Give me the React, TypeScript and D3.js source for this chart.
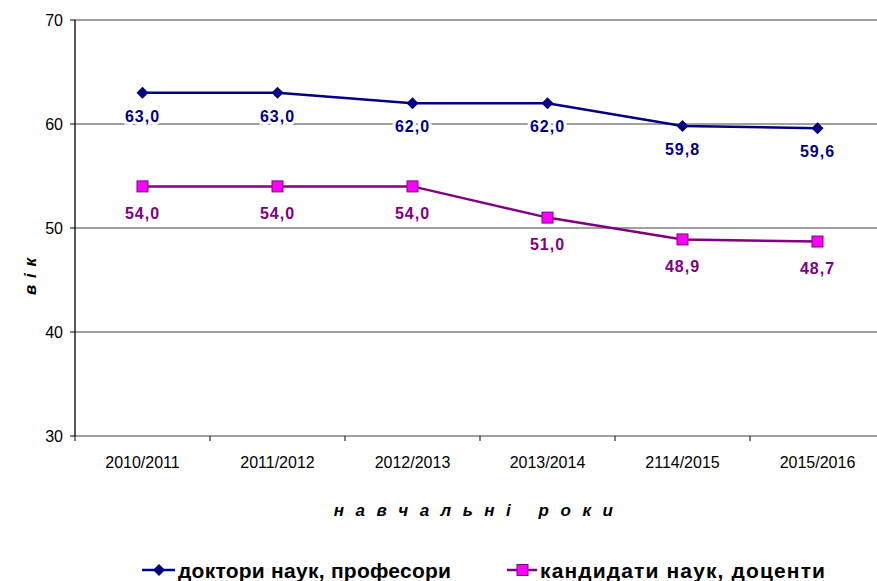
import React from "react";
import * as d3 from "d3";

const years = ["2010/2011", "2011/2012", "2012/2013", "2013/2014", "2114/2015", "2015/2016"];
const doctors = [63.0, 63.0, 62.0, 62.0, 59.8, 59.6];
const candidates = [54.0, 54.0, 54.0, 51.0, 48.9, 48.7];
const yTicks = [30, 40, 50, 60, 70];

const W = 877;
const H = 581;
const margin = { top: 20, right: -8, bottom: 145, left: 75 };
const FONT = "Arial, 'Liberation Sans', sans-serif";

const BLUE = "#000080";
const PURPLE = "#800080";
const PINK = "#FF00FF";

const fmt = (v: number) => v.toFixed(1).replace(".", ",");

export default function App() {
  const innerW = W - margin.left - margin.right;
  const innerH = H - margin.top - margin.bottom;

  const x = d3.scaleBand<string>().domain(years).range([0, innerW]);
  const y = d3.scaleLinear().domain([30, 70]).range([innerH, 0]);
  const cx = (d: string) => (x(d) ?? 0) + x.bandwidth() / 2;

  const line = d3
    .line<number>()
    .x((_, i) => cx(years[i]))
    .y((d) => y(d));

  return (
    <svg width={W} height={H} style={{ display: "block", position: "absolute", left: 0, top: 0 }} fontFamily={FONT}>
      <rect width={W} height={H} fill="#fff" />
      <g transform={`translate(${margin.left},${margin.top})`}>
        {/* gridlines */}
        {yTicks.map((t) => (
          <line key={t} x1={0} x2={innerW} y1={y(t)} y2={y(t)} stroke="#808080" strokeWidth={1.3} />
        ))}
        {/* y axis */}
        <line x1={0} x2={0} y1={0} y2={innerH} stroke="#000" strokeWidth={1.3} />
        {yTicks.map((t) => (
          <g key={t} transform={`translate(0,${y(t)})`}>
            <line x1={-5} x2={0} stroke="#000" />
            <text x={-12} dy="0.36em" textAnchor="end" fontSize={16} fill="#000">
              {t}
            </text>
          </g>
        ))}
        {/* x axis ticks */}
        {d3.range(years.length + 1).map((i) => (
          <line key={i} x1={i * x.bandwidth()} x2={i * x.bandwidth()} y1={innerH} y2={innerH + 5} stroke="#000" />
        ))}
        {years.map((yr) => (
          <text key={yr} x={cx(yr)} y={innerH + 32} textAnchor="middle" fontSize={16} fill="#000">
            {yr}
          </text>
        ))}

        {/* series lines */}
        <path d={line(doctors) ?? ""} fill="none" stroke={BLUE} strokeWidth={2.5} />
        <path d={line(candidates) ?? ""} fill="none" stroke={PURPLE} strokeWidth={2.5} />

        {/* markers */}
        {doctors.map((v, i) => (
          <path
            key={i}
            transform={`translate(${cx(years[i])},${y(v)})`}
            d="M0,-6L6,0L0,6L-6,0Z"
            fill={BLUE}
          />
        ))}
        {candidates.map((v, i) => (
          <rect
            key={i}
            x={cx(years[i]) - 5.5}
            y={y(v) - 5.5}
            width={11}
            height={11}
            fill={PINK}
            stroke={PURPLE}
            strokeWidth={1}
          />
        ))}

        {/* data labels */}
        {doctors.map((v, i) => (
          <text
            key={i}
            x={cx(years[i])}
            y={y(v) + 23}
            dy="0.36em"
            textAnchor="middle"
            fontSize={16}
            fontWeight="bold"
            letterSpacing={1}
            fill={BLUE}
            stroke="#fff"
            strokeWidth={6}
            style={{ paintOrder: "stroke" }}
          >
            {fmt(v)}
          </text>
        ))}
        {candidates.map((v, i) => (
          <text
            key={i}
            x={cx(years[i])}
            y={y(v) + 27}
            dy="0.36em"
            textAnchor="middle"
            fontSize={16}
            fontWeight="bold"
            letterSpacing={1}
            fill={PURPLE}
            stroke="#fff"
            strokeWidth={6}
            style={{ paintOrder: "stroke" }}
          >
            {fmt(v)}
          </text>
        ))}
      </g>

      {/* axis titles */}
      <text
        transform="translate(36,276) rotate(-90)"
        textAnchor="middle"
        fontSize={17}
        fontWeight="bold"
        fontStyle="italic"
        letterSpacing={1}
        style={{ whiteSpace: "pre" }}
      >
        в і к
      </text>
      <text
        x={475}
        y={516}
        textAnchor="middle"
        fontSize={17}
        fontWeight="bold"
        fontStyle="italic"
        letterSpacing={3.4}
        style={{ whiteSpace: "pre" }}
      >
        н а в ч а л ь н і   р о к и
      </text>

      {/* legend */}
      <g transform="translate(142,570)">
        <line x1={0} x2={33} y1={0} y2={0} stroke={BLUE} strokeWidth={2.5} />
        <path transform="translate(17,0)" d="M0,-6L6,0L0,6L-6,0Z" fill={BLUE} />
        <text x={36} dy="0.36em" fontSize={21} fontWeight="bold" fill="#000" textLength={273} lengthAdjust="spacing">
          доктори наук, професори
        </text>
      </g>
      <g transform="translate(507,570)">
        <line x1={0} x2={30} y1={0} y2={0} stroke={PURPLE} strokeWidth={2.5} />
        <rect x={10} y={-5.5} width={11} height={11} fill={PINK} stroke={PURPLE} />
        <text x={33} dy="0.36em" fontSize={21} fontWeight="bold" fill="#000" textLength={285} lengthAdjust="spacing">
          кандидати наук, доценти
        </text>
      </g>
    </svg>
  );
}
